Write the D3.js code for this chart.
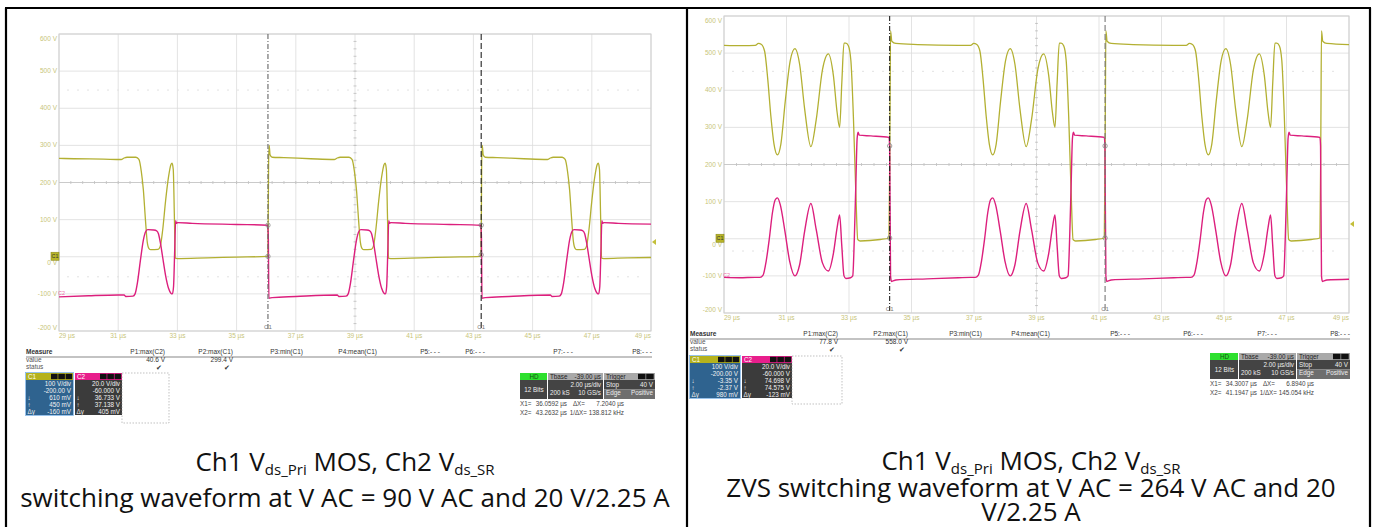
<!DOCTYPE html>
<html>
<head>
<meta charset="utf-8">
<title>Vds switching waveforms</title>
<script src="https://cdnjs.cloudflare.com/ajax/libs/d3/7.8.5/d3.min.js"></script>
<style>
  body { margin: 0; background: #fff; }
  svg { display: block; font-family: "Liberation Sans", Arial, sans-serif; }
  .cap { font-family: "Open Sans", sans-serif; fill: #111; }
</style>
</head>
<body>
<svg id="svg" width="1379" height="527"></svg>
<script>
// axis labels
const timeTicks = [29, 31, 33, 35, 37, 39, 41, 43, 45, 47, 49];
const voltTicks = [600, 500, 400, 300, 200, 100, 0, -100, -200];

// 90 V AC capture, [time us, volts]
const lowC1 = [
  [29.0,265],[29.5,264],[30.5,263],[31.1,262],[31.2,266],[31.3,268],[31.6,268],[31.7,262],[31.78,230],[31.85,180],
  [31.92,100],[31.98,40],[32.04,22],[32.1,19],[32.35,20],[32.42,28],[32.5,70],[32.6,150],[32.7,215],[32.78,248],
  [32.82,252],[32.86,235],[32.9,100],[32.93,-4],[33.0,-5],[34.0,-3],[35.0,-1],[36.04,1],[36.06,5],[36.08,250],
  [36.1,300],[36.13,275],[36.2,268],[36.6,267],[37.5,264],[38.3,262],[38.4,266],[38.5,268],[38.8,268],[38.9,262],
  [38.98,230],[39.05,180],[39.12,100],[39.18,40],[39.24,22],[39.3,19],[39.55,20],[39.62,28],[39.7,70],[39.8,150],
  [39.9,215],[39.98,248],[40.02,252],[40.06,235],[40.1,100],[40.13,-4],[40.2,-5],[41.2,-3],[42.2,-1],[43.24,1],
  [43.26,5],[43.28,250],[43.3,300],[43.33,275],[43.4,268],[43.8,267],[44.7,264],[45.5,262],[45.6,266],[45.7,268],
  [46.0,268],[46.1,262],[46.18,230],[46.25,180],[46.32,100],[46.38,40],[46.44,22],[46.5,19],[46.75,20],[46.82,28],
  [46.9,70],[47.0,150],[47.1,215],[47.18,248],[47.22,252],[47.26,235],[47.3,100],[47.33,-4],[47.4,-5],[48.2,-3],
  [49.0,-2]
];
const lowC2 = [
  [29.0,-108],[30.0,-105],[31.0,-103],[31.2,-103],[31.25,-107],[31.5,-106],[31.57,-100],[31.65,-70],[31.75,-10],[31.85,45],
  [31.93,68],[32.0,73],[32.2,72],[32.3,70],[32.36,62],[32.42,40],[32.5,0],[32.6,-50],[32.7,-85],[32.78,-98],
  [32.83,-100],[32.87,-80],[32.91,20],[32.94,97],[32.97,90],[33.0,92],[33.5,90],[35.0,87],[36.04,85],[36.07,60],
  [36.09,-112],[36.2,-110],[37.0,-107],[38.4,-103],[38.45,-107],[38.7,-106],[38.77,-100],[38.85,-70],[38.95,-10],[39.05,45],
  [39.13,68],[39.2,73],[39.4,72],[39.5,70],[39.56,62],[39.62,40],[39.7,0],[39.8,-50],[39.9,-85],[39.98,-98],
  [40.03,-100],[40.07,-80],[40.11,20],[40.14,97],[40.17,90],[40.2,92],[40.7,90],[42.2,87],[43.24,85],[43.27,60],
  [43.29,-112],[43.4,-110],[44.2,-107],[45.6,-103],[45.65,-107],[45.9,-106],[45.97,-100],[46.05,-70],[46.15,-10],[46.25,45],
  [46.33,68],[46.4,73],[46.6,72],[46.7,70],[46.76,62],[46.82,40],[46.9,0],[47.0,-50],[47.1,-85],[47.18,-98],
  [47.23,-100],[47.27,-80],[47.31,20],[47.34,97],[47.37,90],[47.4,92],[47.9,90],[49.0,88]
];

// 264 V AC capture, [time us, volts]
const highC1 = [
  [29.0,521],[29.6,520],[30.0,521],[30.1,526],[30.2,523],[30.3,505],[30.4,430],[30.5,330],[30.6,255],[30.71,226],
  [30.82,255],[30.96,370],[31.12,480],[31.27,512],[31.42,470],[31.58,350],[31.78,248],[31.95,320],[32.15,455],[32.34,498],
  [32.5,440],[32.62,340],[32.7,300],[32.77,420],[32.84,527],[32.9,527],[32.98,520],[33.06,480],[33.14,330],[33.22,120],
  [33.28,-2],[33.36,-6],[34.0,-2],[34.28,2],[34.31,300],[34.33,560],[34.37,532],[34.5,526],[35.2,523],[36.5,521],
  [36.89,521],[36.99,526],[37.09,523],[37.19,505],[37.29,430],[37.39,330],[37.49,255],[37.6,226],[37.71,255],[37.85,370],
  [38.01,480],[38.16,512],[38.31,470],[38.47,350],[38.67,248],[38.84,320],[39.04,455],[39.23,498],[39.39,440],[39.51,340],
  [39.59,300],[39.66,420],[39.73,527],[39.79,527],[39.87,520],[39.95,480],[40.03,330],[40.11,120],[40.17,-2],[40.25,-6],
  [40.89,-2],[41.17,2],[41.2,300],[41.22,560],[41.26,532],[41.39,526],[42.09,523],[43.39,521],
  [43.79,521],[43.89,526],[43.99,523],[44.09,505],[44.19,430],[44.29,330],[44.39,255],[44.5,226],[44.61,255],[44.75,370],
  [44.91,480],[45.06,512],[45.21,470],[45.37,350],[45.57,248],[45.74,320],[45.94,455],[46.13,498],[46.29,440],[46.41,340],
  [46.49,300],[46.56,420],[46.63,527],[46.69,527],[46.77,520],[46.85,480],[46.93,330],[47.01,120],[47.07,-2],[47.15,-6],
  [47.79,-2],[48.07,2],[48.1,300],[48.12,560],[48.16,532],[48.29,526],[49.0,523]
];
const highC2 = [
  [29.0,-104],[29.5,-105],[30.0,-104],[30.15,-104],[30.25,-98],[30.35,-60],[30.45,0],[30.55,70],[30.64,105],[30.71,110],
  [30.8,92],[30.95,20],[31.1,-60],[31.27,-100],[31.42,-70],[31.58,20],[31.78,95],[31.95,25],[32.15,-65],[32.34,-87],
  [32.5,-40],[32.62,30],[32.7,64],[32.77,-20],[32.84,-100],[32.9,-107],[33.05,-105],[33.12,-100],[33.17,0],[33.22,150],
  [33.26,270],[33.29,287],[33.33,279],[33.7,277],[34.28,273],[34.3,250],[34.33,-100],[34.36,-115],[34.5,-111],[35.5,-108],
  [36.5,-105],
  [36.89,-104],[37.04,-104],[37.14,-98],[37.24,-60],[37.34,0],[37.44,70],[37.53,105],[37.6,110],[37.69,92],[37.84,20],
  [37.99,-60],[38.16,-100],[38.31,-70],[38.47,20],[38.67,95],[38.84,25],[39.04,-65],[39.23,-87],[39.39,-40],[39.51,30],
  [39.59,64],[39.66,-20],[39.73,-100],[39.79,-107],[39.94,-105],[40.01,-100],[40.06,0],[40.11,150],[40.15,270],[40.18,287],
  [40.22,279],[40.59,277],[41.17,273],[41.19,250],[41.22,-100],[41.25,-115],[41.39,-111],[42.39,-108],[43.39,-105],
  [43.79,-104],[43.94,-104],[44.04,-98],[44.14,-60],[44.24,0],[44.34,70],[44.43,105],[44.5,110],[44.59,92],[44.74,20],
  [44.89,-60],[45.06,-100],[45.21,-70],[45.37,20],[45.57,95],[45.74,25],[45.94,-65],[46.13,-87],[46.29,-40],[46.41,30],
  [46.49,64],[46.56,-20],[46.63,-100],[46.69,-107],[46.84,-105],[46.91,-100],[46.96,0],[47.01,150],[47.05,270],[47.08,287],
  [47.12,279],[47.49,277],[48.07,273],[48.09,250],[48.12,-100],[48.15,-115],[48.29,-111],[49.0,-109]
];

// readouts
const measureHeads = ["P1:max(C2)", "P2:max(C1)", "P3:min(C1)", "P4:mean(C1)", "P5:- - -", "P6:- - -", "P7:- - -", "P8:- - -"];
const lowValues = ["40.6 V", "299.4 V"];
const highValues = ["77.8 V", "558.0 V"];
const lowC1Info = ["100 V/div", "-200.00 V", "610 mV", "450 mV", "-160 mV"];
const lowC2Info = ["20.0 V/div", "-60.000 V", "36.733 V", "37.138 V", "405 mV"];
const highC1Info = ["100 V/div", "-200.00 V", "-3.35 V", "-2.37 V", "980 mV"];
const highC2Info = ["20.0 V/div", "-60.000 V", "74.698 V", "74.575 V", "-123 mV"];
const lowCursors = [36.0592, 43.2632];
const highCursors = [34.3007, 41.1947];
const lowCursorText = ["36.0592 µs", "7.2040 µs", "43.2632 µs", "138.812 kHz"];
const highCursorText = ["34.3007 µs", "6.8940 µs", "41.1947 µs", "145.054 kHz"];

const YEL = '#b3b032', PINK = '#dc1f7d', LBL = '#c8c57a';
const svg = d3.select('#svg');

function panel(c, c1, c2, cursors) {
  const g = svg.append('g');
  const x = d3.scaleLinear().domain([29, 49]).range([c.left, c.right]);
  const y = d3.scaleLinear().domain([-200, 600]).range([c.bottom, c.top]);

  g.selectAll('.vg').data(timeTicks).enter().append('line')
    .attr('x1', d => x(d)).attr('x2', d => x(d)).attr('y1', c.top).attr('y2', c.bottom)
    .attr('stroke', '#dcdcdc').attr('stroke-width', 0.8);
  g.selectAll('.hg').data(voltTicks).enter().append('line')
    .attr('x1', c.left).attr('x2', c.right).attr('y1', d => y(d)).attr('y2', d => y(d))
    .attr('stroke', '#dcdcdc').attr('stroke-width', 0.8);
  g.append('rect').attr('x', c.left).attr('y', c.top).attr('width', c.right - c.left).attr('height', c.bottom - c.top)
    .attr('fill', 'none').attr('stroke', '#cfcfcf');

  // centre axes with minor ticks
  g.selectAll('.mx').data(d3.range(29.4, 49, 0.4)).enter().append('line')
    .attr('x1', d => x(d)).attr('x2', d => x(d)).attr('y1', y(200) - 1.5).attr('y2', y(200) + 1.5)
    .attr('stroke', '#aaa').attr('stroke-width', 0.6);
  g.selectAll('.my').data(d3.range(-180, 600, 20)).enter().append('line')
    .attr('x1', x(39) - 1.5).attr('x2', x(39) + 1.5).attr('y1', d => y(d)).attr('y2', d => y(d))
    .attr('stroke', '#aaa').attr('stroke-width', 0.6);
  g.append('line').attr('x1', c.left).attr('x2', c.right).attr('y1', y(200)).attr('y2', y(200))
    .attr('stroke', '#c4c4c4').attr('stroke-width', 0.8);

  // faint horizontal marker lines
  c.dots.forEach(v => g.append('line').attr('x1', c.left + 8).attr('x2', c.right - 8)
    .attr('y1', y(v)).attr('y2', y(v)).attr('stroke', '#e2e2e2').attr('stroke-dasharray', '2,8'));

  g.selectAll('.yl').data(voltTicks).enter().append('text')
    .attr('x', c.left - 2)
    .attr('y', d => Math.min(Math.max(y(d), c.top + 5), c.bottom - 3) + 2 + (d === 0 ? 6 : 0))
    .attr('text-anchor', 'end').attr('font-size', 6.5).attr('fill', LBL)
    .text(d => d + ' V');
  g.selectAll('.xl').data(timeTicks).enter().append('text')
    .attr('x', d => x(d))
    .attr('y', c.bottom + 7)
    .attr('text-anchor', (d, i) => i === 0 ? 'start' : i === timeTicks.length - 1 ? 'end' : 'middle')
    .attr('font-size', 6.5).attr('fill', LBL)
    .text(d => d + ' µs');

  const line = d3.line().x(d => x(d[0])).y(d => y(d[1])).curve(d3.curveMonotoneX);
  g.append('path').datum(c1).attr('d', line).attr('fill', 'none').attr('stroke', YEL).attr('stroke-width', 1.3);
  g.append('path').datum(c2).attr('d', line).attr('fill', 'none').attr('stroke', PINK).attr('stroke-width', 1.4);

  // cursors
  cursors.forEach((t, i) => {
    const dash = c.cursorStyle[i];
    g.append('line').attr('x1', x(t)).attr('x2', x(t)).attr('y1', c.top).attr('y2', c.bottom)
      .attr('stroke', dash.color).attr('stroke-width', 1.1).attr('stroke-dasharray', dash.dash);
    g.append('text').attr('x', x(t)).attr('y', c.bottom - 2).attr('text-anchor', 'middle')
      .attr('font-size', 6).attr('fill', '#777').text('C1');
    const bis = d3.bisector(d => d[0]).left;
    [c1, c2].forEach(s => {
      const p = s[Math.max(0, bis(s, t) - 1)];
      g.append('circle').attr('cx', x(t)).attr('cy', y(p[1])).attr('r', 2.2)
        .attr('fill', 'none').attr('stroke', '#888').attr('stroke-width', 0.8);
    });
  });

  // channel markers on the left, trigger level on the right
  g.append('rect').attr('x', c.left - 8).attr('y', y(0) - 4.5).attr('width', 8).attr('height', 8)
    .attr('fill', '#b8b528').attr('stroke', '#8c8a18').attr('stroke-width', 0.6);
  g.append('text').attr('x', c.left - 4).attr('y', y(0) + 1.6).attr('text-anchor', 'middle')
    .attr('font-size', 5.3).attr('fill', '#333').text('C1');
  g.append('text').attr('x', c.left + 6).attr('y', y(-100) + 1).attr('text-anchor', 'end')
    .attr('font-size', 5.5).attr('fill', '#ee6aa8').text('C2');
  g.append('path').attr('d', `M${c.right + 1},${y(40)} l4,-3 l0,6 z`).attr('fill', '#c3bf3a');
}

function measure(m, values) {
  const g = svg.append('g').attr('font-size', 6.5).attr('fill', '#333');
  g.append('text').attr('x', m.x).attr('y', m.y).attr('font-weight', 'bold').text('Measure');
  g.selectAll('.ph').data(measureHeads).enter().append('text')
    .attr('x', (d, i) => m.cols[i]).attr('y', m.y).attr('text-anchor', 'end').text(d => d);
  g.append('line').attr('x1', m.x).attr('x2', m.cols[7]).attr('y1', m.y + 3).attr('y2', m.y + 3)
    .attr('stroke', '#555').attr('stroke-width', 0.7);
  g.append('text').attr('x', m.x).attr('y', m.y + 8).attr('fill', '#555').text('value');
  g.append('text').attr('x', m.x).attr('y', m.y + 15).attr('fill', '#555').text('status');
  g.selectAll('.pv').data(values).enter().append('text')
    .attr('x', (d, i) => m.cols[i]).attr('y', m.y + 8).attr('text-anchor', 'end').text(d => d);
  g.selectAll('.ps').data(values).enter().append('text')
    .attr('x', (d, i) => m.cols[i] - 3).attr('y', m.y + 16).attr('text-anchor', 'end').text('✔');
}

function channelBoxes(b, c1info, c2info) {
  const g = svg.append('g').attr('font-size', 6.3);
  const boxes = [
    { name: 'C1', head: '#b5b21d', body: '#2f638f', info: c1info, x: b.x },
    { name: 'C2', head: '#e81e8c', body: '#3b3b3b', info: c2info, x: b.x + b.w + 2 }
  ];
  boxes.forEach(bx => {
    g.append('rect').attr('x', bx.x).attr('y', b.y).attr('width', b.w).attr('height', 7).attr('fill', bx.head);
    g.append('text').attr('x', bx.x + 2).attr('y', b.y + 5.6).attr('fill', '#fff').text(bx.name);
    [0, 1, 2].forEach(k => g.append('rect').attr('x', bx.x + b.w - 22 + k * 7.3).attr('y', b.y + 0.8)
      .attr('width', 6.6).attr('height', 5.4).attr('fill', '#111'));
    g.append('rect').attr('x', bx.x).attr('y', b.y + 7).attr('width', b.w).attr('height', b.h).attr('fill', bx.body);
    bx.info.forEach((t, k) => g.append('text').attr('x', bx.x + b.w - 2).attr('y', b.y + 13 + k * 7)
      .attr('text-anchor', 'end').attr('fill', '#f2f2f2').text(t));
    ['', '', '↓', '↑', 'Δy'].forEach((s, k) => s && g.append('text').attr('x', bx.x + 1.5)
      .attr('y', b.y + 13 + k * 7).attr('fill', '#e8e8e8').text(s));
  });
  g.append('rect').attr('x', boxes[0].x - 0.5).attr('y', b.y - 0.5).attr('width', b.w + 1).attr('height', b.h + 8)
    .attr('fill', 'none').attr('stroke', '#7fb4e6').attr('stroke-width', 0.8);
  g.append('rect').attr('x', b.x + 2 * b.w + 2).attr('y', b.y).attr('width', b.w).attr('height', b.dh)
    .attr('fill', 'none').attr('stroke', '#999').attr('stroke-width', 0.6).attr('stroke-dasharray', '1.5,1.5');
}

function infoBlock(f, cur) {
  const g = svg.append('g').attr('font-size', 6.3).attr('fill', '#eee');
  const hh = 7, bh = f.bh;
  const xt = f.x + f.hd, xr = xt + f.tb;
  g.append('rect').attr('x', f.x).attr('y', f.y).attr('width', f.hd - 1).attr('height', hh).attr('fill', '#2ee02e');
  g.append('text').attr('x', f.x + f.hd / 2).attr('y', f.y + 5.8).attr('text-anchor', 'middle').attr('fill', '#145214').text('HD');
  g.append('rect').attr('x', f.x).attr('y', f.y + hh).attr('width', f.hd - 1).attr('height', bh).attr('fill', '#444');
  g.append('text').attr('x', f.x + f.hd / 2).attr('y', f.y + hh + bh / 2 + 2).attr('text-anchor', 'middle').text('12 Bits');

  g.append('rect').attr('x', xt).attr('y', f.y).attr('width', f.tb - 1).attr('height', hh).attr('fill', '#a9a9a9');
  g.append('text').attr('x', xt + 2).attr('y', f.y + 5.8).attr('fill', '#222').text('Tbase');
  g.append('text').attr('x', xt + f.tb - 3).attr('y', f.y + 5.8).attr('text-anchor', 'end').attr('fill', '#222').text('-39.00 µs');
  g.append('rect').attr('x', xt).attr('y', f.y + hh).attr('width', f.tb - 1).attr('height', bh).attr('fill', '#444');
  g.append('text').attr('x', xt + f.tb - 3).attr('y', f.y + hh + 7).attr('text-anchor', 'end').text('2.00 µs/div');
  g.append('text').attr('x', xt + 2).attr('y', f.y + hh + 15).text('200 kS');
  g.append('text').attr('x', xt + f.tb - 3).attr('y', f.y + hh + 15).attr('text-anchor', 'end').text('10 GS/s');

  g.append('rect').attr('x', xr).attr('y', f.y).attr('width', f.tr).attr('height', hh).attr('fill', '#a9a9a9');
  g.append('text').attr('x', xr + 2).attr('y', f.y + 5.8).attr('fill', '#222').text('Trigger');
  g.append('rect').attr('x', xr + f.tr - 17).attr('y', f.y + 0.8).attr('width', 7.5).attr('height', 5.4).attr('fill', '#111');
  g.append('rect').attr('x', xr + f.tr - 8.8).attr('y', f.y + 0.8).attr('width', 7.5).attr('height', 5.4).attr('fill', '#111');
  g.append('rect').attr('x', xr).attr('y', f.y + hh).attr('width', f.tr).attr('height', bh / 2).attr('fill', '#444');
  g.append('rect').attr('x', xr).attr('y', f.y + hh + bh / 2).attr('width', f.tr).attr('height', bh / 2).attr('fill', '#6e6e6e');
  g.append('text').attr('x', xr + 2).attr('y', f.y + hh + 7).text('Stop');
  g.append('text').attr('x', xr + f.tr - 2).attr('y', f.y + hh + 7).attr('text-anchor', 'end').text('40 V');
  g.append('text').attr('x', xr + 2).attr('y', f.y + hh + 15).text('Edge');
  g.append('text').attr('x', xr + f.tr - 2).attr('y', f.y + hh + 15).attr('text-anchor', 'end').text('Positive');

  const t = svg.append('g').attr('font-size', 6.3).attr('fill', '#444');
  const ry = [f.y + hh + bh + 7, f.y + hh + bh + 15.5];
  t.append('text').attr('x', f.x).attr('y', ry[0]).text('X1=');
  t.append('text').attr('x', f.x).attr('y', ry[1]).text('X2=');
  t.append('text').attr('x', f.x + 47).attr('y', ry[0]).attr('text-anchor', 'end').text(cur[0]);
  t.append('text').attr('x', f.x + 47).attr('y', ry[1]).attr('text-anchor', 'end').text(cur[2]);
  t.append('text').attr('x', f.x + 65).attr('y', ry[0]).attr('text-anchor', 'end').text('ΔX=');
  t.append('text').attr('x', f.x + 67).attr('y', ry[1]).attr('text-anchor', 'end').text('1/ΔX=');
  t.append('text').attr('x', f.x + 104).attr('y', ry[0]).attr('text-anchor', 'end').text(cur[1]);
  t.append('text').attr('x', f.x + 104).attr('y', ry[1]).attr('text-anchor', 'end').text(cur[3]);
}

panel({ left: 59, right: 651, top: 34, bottom: 331, dots: [449, -54],
        cursorStyle: [{ color: '#666', dash: '5,2,1,2' }, { color: '#222', dash: '6,3' }] },
      lowC1, lowC2, lowCursors);
panel({ left: 724, right: 1349, top: 16, bottom: 313, dots: [451, -33],
        cursorStyle: [{ color: '#222', dash: '5,2,1,2' }, { color: '#777', dash: '6,3' }] },
      highC1, highC2, highCursors);

measure({ x: 26, y: 354, cols: [165, 233, 303, 377, 440, 485, 573, 652] }, lowValues);
measure({ x: 690, y: 336, cols: [838, 908, 982, 1050, 1130, 1203, 1277, 1350] }, highValues);
channelBoxes({ x: 26, y: 373, w: 47, h: 35, dh: 50 }, lowC1Info, lowC2Info);
channelBoxes({ x: 690, y: 356, w: 50, h: 35, dh: 48 }, highC1Info, highC2Info);
infoBlock({ x: 520, y: 373, hd: 28, tb: 56, tr: 51, bh: 19 }, lowCursorText);
infoBlock({ x: 1210, y: 353, hd: 29, tb: 58, tr: 53, bh: 19 }, highCursorText);

// captions
function caption(cx, y, rows) {
  const t = svg.append('text').attr('class', 'cap').attr('text-anchor', 'middle').attr('font-size', 26);
  rows.forEach((r, i) => {
    const row = t.append('tspan').attr('x', cx).attr('y', y[i]);
    r.forEach(part => {
      const s = row.append('tspan').text(part.t);
      if (part.sub) s.attr('font-size', 15).attr('dy', 4);
      else if (part.after) s.attr('dy', -4);
    });
  });
}
const line1 = [{ t: 'Ch1 V' }, { t: 'ds_Pri', sub: true }, { t: ' MOS, Ch2 V', after: true }, { t: 'ds_SR', sub: true }];
caption(345, [471, 507], [line1, [{ t: 'switching waveform at V AC = 90 V AC and 20 V/2.25 A' }]]);
caption(1031, [470, 497, 521], [line1, [{ t: 'ZVS switching waveform at V AC = 264 V AC and 20' }], [{ t: 'V/2.25 A' }]]);

// table borders
const border = svg.append('g').attr('stroke', '#000').attr('stroke-width', 2.2);
[[5, 8, 1371, 8], [6, 8, 6, 527], [687, 8, 687, 527], [1370, 8, 1370, 527]].forEach(l =>
  border.append('line').attr('x1', l[0]).attr('y1', l[1]).attr('x2', l[2]).attr('y2', l[3]));
</script>
</body>
</html>
